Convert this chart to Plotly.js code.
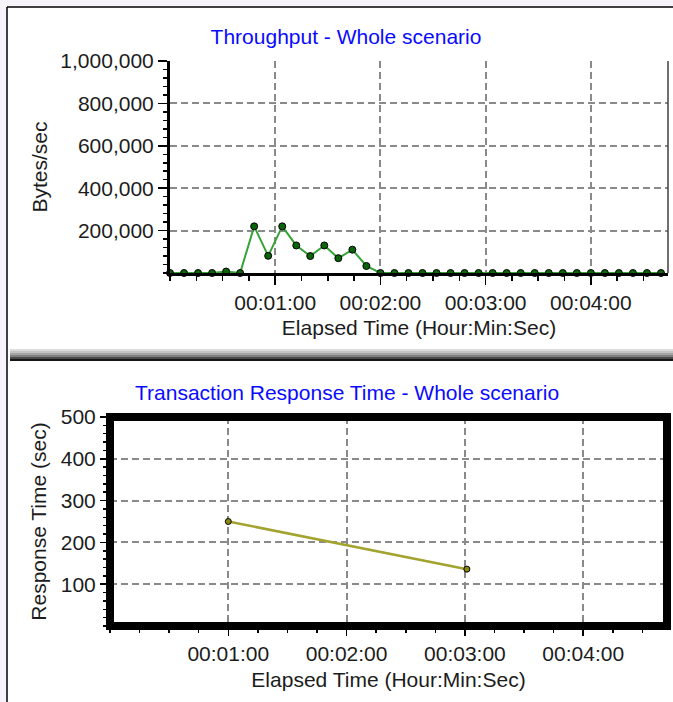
<!DOCTYPE html>
<html>
<head>
<meta charset="utf-8">
<script src="https://cdn.plot.ly/plotly-3.0.1.min.js"></script>
<style>
html,body{margin:0;padding:0;background:#ffffff;}
#chart{width:673px;height:702px;}
</style>
</head>
<body>
<div id="chart"></div>
<script>
// ---- data (seconds of elapsed time) ----
const throughputTimes = [0,8,16,24,32,40,48,56,64,72,80,88,96,104,112,120,128,136,144,152,160,168,176,184,192,200,208,216,224,232,240,248,256,264,272,280];
const throughputValues = [0,0,0,0,7000,0,220000,81000,220000,130000,80000,130000,70000,110000,33000,0,0,0,0,0,0,0,0,0,0,0,0,0,0,0,0,0,0,0,0,0];
const responseTimes = [60,181];
const responseValues = [250,136];
const timeTickVals = [60,120,180,240];
const timeTickText = ["00:01:00","00:02:00","00:03:00","00:04:00"];
const bytesTickVals = [200000,400000,600000,800000,1000000];
const bytesTickText = ["200,000","400,000","600,000","800,000","1,000,000"];
const respTickVals = [100,200,300,400,500];
const respTickText = ["100","200","300","400","500"];
const topTitle = "Throughput - Whole scenario";
const bottomTitle = "Transaction Response Time - Whole scenario";
const xTitle = "Elapsed Time (Hour:Min:Sec)";
const yTitleTop = "Bytes/sec";
const yTitleBottom = "Response Time (sec)";

// ---- layout helpers ----
const W = 673, H = 702;
const px = x => x / W;
const py = y => 1 - y / H;
const FONT = "Liberation Sans, Arial, sans-serif";
const TXT = "#1c1c1c";
const tf = {family: FONT, size: 21, color: TXT};
const grid = {showgrid: true, gridcolor: "#8a8a8a", gridwidth: 2, griddash: "7px,4px", zeroline: false};

const traces = [
  {
    x: throughputTimes, y: throughputValues, xaxis: "x", yaxis: "y",
    type: "scatter", mode: "lines+markers", cliponaxis: false,
    line: {color: "#36a336", width: 2},
    marker: {size: 7, color: "#0a650a", line: {color: "#000000", width: 1}},
    hoverinfo: "skip"
  },
  {
    x: responseTimes, y: responseValues, xaxis: "x2", yaxis: "y2",
    type: "scatter", mode: "lines+markers", cliponaxis: false,
    line: {color: "#a3a330", width: 2.5},
    marker: {size: 6, color: "#8a8a10", line: {color: "#000000", width: 1}},
    hoverinfo: "skip"
  }
];

const sep = [
  [349, 351, "#dcdcdc"],
  [351, 353, "#c4c4c4"],
  [353, 355, "#a4a4a4"],
  [355, 357, "#808080"],
  [357, 359, "#4a4a4a"],
  [359, 361, "#151515"]
];

const shapes = [
  {type: "rect", xref: "paper", yref: "paper", x0: 0, x1: 1, y0: py(6.5), y1: 1, line: {width: 0}, fillcolor: "#f7f3fa", layer: "below"},
  {type: "rect", xref: "paper", yref: "paper", x0: 0, x1: px(6.5), y0: 0, y1: 1, line: {width: 0}, fillcolor: "#f7f3fa", layer: "below"},
  {type: "line", xref: "paper", yref: "paper", x0: px(7), x1: 1, y0: py(7), y1: py(7), line: {color: "#000", width: 1.5}},
  {type: "line", xref: "paper", yref: "paper", x0: px(7), x1: px(7), y0: 0, y1: py(7), line: {color: "#000", width: 1.5}},
  // right edge of the top plot
  {type: "line", xref: "paper", yref: "paper", x0: px(668), x1: px(668), y0: py(273), y1: py(61), line: {color: "#404040", width: 1.5}},
  // thick frame of the bottom plot
  {type: "rect", xref: "paper", yref: "paper", x0: px(110), x1: px(667), y0: py(626), y1: py(417), line: {color: "#000", width: 8}, layer: "above"}
];
sep.forEach(s => shapes.push({type: "rect", xref: "paper", yref: "paper", x0: px(10), x1: 1, y0: py(s[1]), y1: py(s[0]), line: {width: 0}, fillcolor: s[2]}));

const layout = {
  width: W, height: H, autosize: false,
  margin: {l: 0, r: 0, t: 0, b: 0, pad: 0},
  paper_bgcolor: "#ffffff", plot_bgcolor: "#ffffff",
  showlegend: false,
  font: tf,
  title: {text: topTitle, x: px(346), xanchor: "center", xref: "paper", y: py(37), yanchor: "middle", yref: "paper", font: {family: FONT, size: 21, color: "#0a0aff"}},
  xaxis: Object.assign({
    domain: [px(170), px(668)], range: [0, 284], anchor: "y",
    tickmode: "array", tickvals: timeTickVals, ticktext: timeTickText,
    ticks: "outside", ticklen: 9, tickwidth: 1.5, tickcolor: "#000",
    showline: true, linewidth: 3, linecolor: "#000",
    tickfont: tf, fixedrange: true,
    minor: {tickmode: "linear", tick0: 0, dtick: 15, ticks: "outside", ticklen: 5, tickwidth: 1.5, tickcolor: "#000", showgrid: false},
    title: {text: xTitle, font: tf, standoff: 8}
  }, grid),
  yaxis: Object.assign({
    domain: [py(273), py(61)], range: [0, 1000000], anchor: "x",
    tickmode: "array", tickvals: bytesTickVals, ticktext: bytesTickText,
    ticks: "outside", ticklen: 9, tickwidth: 1.5, tickcolor: "#000",
    showline: true, linewidth: 3, linecolor: "#000",
    tickfont: tf, fixedrange: true,
    minor: {tickmode: "linear", tick0: 0, dtick: 40000, ticks: "outside", ticklen: 4, tickwidth: 1.5, tickcolor: "#000", showgrid: false},
    title: {text: yTitleTop, font: tf, standoff: 8}
  }, grid),
  xaxis2: Object.assign({
    domain: [px(110), px(667)], range: [0, 282.5], anchor: "y2",
    tickmode: "array", tickvals: timeTickVals, ticktext: timeTickText,
    ticks: "outside", ticklen: 9, tickwidth: 1.5, tickcolor: "#000",
    showline: false,
    tickfont: tf, fixedrange: true,
    minor: {tickmode: "linear", tick0: 0, dtick: 15, ticks: "outside", ticklen: 6, tickwidth: 1.5, tickcolor: "#000", showgrid: false},
    title: {text: xTitle, font: tf, standoff: 8}
  }, grid),
  yaxis2: Object.assign({
    domain: [py(626), py(417)], range: [0, 500], anchor: "x2",
    tickmode: "array", tickvals: respTickVals, ticktext: respTickText,
    ticks: "outside", ticklen: 9, tickwidth: 1.5, tickcolor: "#000",
    showline: false,
    tickfont: tf, fixedrange: true,
    minor: {tickmode: "linear", tick0: 0, dtick: 20, ticks: "outside", ticklen: 6, tickwidth: 1.5, tickcolor: "#000", showgrid: false},
    title: {text: yTitleBottom, font: tf, standoff: 8}
  }, grid),
  annotations: [
    {text: bottomTitle, xref: "paper", yref: "paper", x: px(347), y: py(392), xanchor: "center", yanchor: "middle", showarrow: false, font: {family: FONT, size: 21, color: "#0a0aff"}}
  ],
  shapes: shapes
};

Plotly.newPlot("chart", traces, layout, {staticPlot: true, displayModeBar: false});
</script>
</body>
</html>
